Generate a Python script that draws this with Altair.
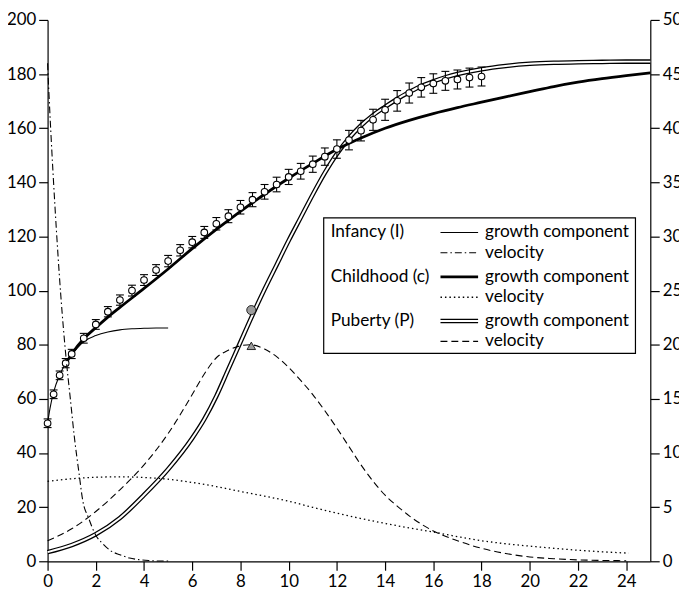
import altair as alt
import pandas as pd

# ---------------- data ----------------
obs_age = [0, 0.25, 0.5, 0.75, 1, 1.5, 2, 2.5, 3, 3.5, 4, 4.5, 5, 5.5, 6, 6.5, 7, 7.5, 8, 8.5,
           9, 9.5, 10, 10.5, 11, 11.5, 12, 12.5, 13, 13.5, 14, 14.5, 15, 15.5, 16, 16.5, 17, 17.5, 18]
obs_len = [51.0, 61.7, 68.7, 73.2, 76.6, 82.4, 87.5, 92.2, 96.5, 100.0, 103.9, 107.6, 110.9, 114.9,
           117.9, 121.5, 124.7, 127.5, 130.8, 133.6, 136.5, 139.2, 142.0, 144.1, 146.7, 149.5, 152.3,
           155.6, 159.1, 163.1, 166.8, 170.1, 173.0, 175.1, 176.5, 177.5, 178.0, 178.7, 179.1]
obs_sd = [1.6, 1.6, 1.6, 1.7, 1.7, 1.8, 1.8, 1.9, 1.9, 2.0, 2.0, 2.0, 2.1, 2.1, 2.1, 2.2, 2.3, 2.4,
          2.5, 2.6, 2.7, 2.7, 2.8, 2.9, 3.0, 3.2, 3.4, 3.6, 3.8, 3.9, 3.9, 3.8, 3.7, 3.6, 3.6, 3.5,
          3.5, 3.5, 3.5]

inf_age = [0, 0.1, 0.25, 0.5, 0.75, 1, 1.25, 1.5, 2, 2.5, 3, 3.5, 4, 4.5, 5]
inf_len = [51.0, 56.5, 62.5, 68.8, 73.2, 76.5, 79.0, 81.2, 83.4, 84.7, 85.5, 85.9, 86.1, 86.2, 86.2]

ch_age = [0.75, 1, 1.5, 2, 2.5, 3, 4, 5, 6, 7, 8, 9, 10, 11, 12, 13, 14, 15, 16, 17, 18, 19, 20,
          21, 22, 23, 24, 25]
ch_len = [73.0, 76.6, 82.2, 86.3, 90.2, 93.8, 100.8, 108.0, 115.5, 122.6, 129.3, 135.6, 141.5,
          147.0, 152.2, 156.4, 160.0, 162.9, 165.4, 167.6, 169.6, 171.6, 173.5, 175.4, 177.0,
          178.3, 179.4, 180.4]

pub_age = [0, 1, 2, 3, 4, 5, 6, 6.5, 7, 7.5, 8, 8.5, 9, 9.5, 10, 10.5, 11, 11.5, 12, 12.5, 13,
           13.5, 14, 14.5, 15, 15.5, 16, 16.5, 17, 18, 19, 20, 21, 22, 23, 24, 25]
pub_len = [3.4, 6.0, 10.0, 16.0, 24.5, 34.0, 45.5, 52.5, 61.0, 71.0, 81.0, 91.0, 100.5, 109.5,
           118.5, 127.0, 135.5, 143.5, 150.5, 156.3, 161.0, 164.8, 167.9, 170.8, 173.3, 175.6,
           177.3, 178.8, 180.0, 181.8, 183.0, 183.8, 184.2, 184.4, 184.5, 184.6, 184.6]

# velocities (cm/yr, right axis)
iv_age = [0, 0.05, 0.15, 0.3, 0.55, 0.77, 0.93, 1.12, 1.3, 1.46, 1.7, 2.0, 2.3, 2.6, 3.0, 3.4,
          3.8, 4.2, 4.6, 5.0]
iv_vel = [46.0, 43.5, 39.0, 33.0, 24.5, 18.7, 15.3, 11.3, 8.2, 5.6, 4.0, 2.4, 1.6, 1.0, 0.6, 0.3,
          0.15, 0.07, 0.03, 0.02]

cv_age = [0, 1, 2, 3, 4, 5, 6, 7, 8, 9, 10, 11, 12, 13, 14, 15, 16, 17, 18, 19, 20, 21, 22, 23, 24.1]
cv_vel = [7.38, 7.62, 7.76, 7.8, 7.74, 7.58, 7.28, 6.9, 6.45, 6.02, 5.55, 4.98, 4.45, 3.95, 3.5,
          3.08, 2.7, 2.28, 1.9, 1.62, 1.4, 1.2, 1.02, 0.88, 0.75]

pv_age = [0, 1, 2, 3, 4, 5, 6, 6.5, 7, 7.5, 8, 8.4, 9, 9.5, 10, 10.5, 11, 11.5, 12, 12.5, 13,
          13.5, 14, 14.5, 15, 16, 17, 18, 19, 20, 21, 22, 23, 24]
pv_vel = [1.9, 3.0, 4.6, 6.6, 8.9, 11.8, 15.4, 17.3, 18.8, 19.5, 19.9, 20.0, 19.6, 18.9, 17.9,
          16.7, 15.4, 13.9, 12.3, 10.6, 8.9, 7.4, 6.1, 5.1, 4.2, 2.8, 1.9, 1.2, 0.72, 0.4, 0.24,
          0.13, 0.08, 0.05]

mid_age = [8.45]
mid_len = [92.8]
peak_vel = [19.9]

legend_groups = ["Infancy (I)", "Childhood (c)", "Puberty (P)"]
legend_items = ["growth component", "velocity"]
x_ticks = list(range(0, 25, 2))
g_ticks = list(range(0, 201, 20))
v_ticks = list(range(0, 51, 5))

# ---------------- styling ----------------
FONT = "Lato"
FS = 17
LFS = 17.4
W, H = 609, 547

axis_common = dict(title=None, grid=False, labelFont=FONT, labelFontSize=FS, labelColor="black",
                   domainColor="black", tickColor="black", domainWidth=1.2, tickWidth=1.2,
                   tickSize=9, labelPadding=3, labelOverlap=False)

xscale = alt.Scale(domain=[0, 25], nice=False, zero=False)
x_axis = alt.Axis(values=x_ticks, labelFlush=False, **axis_common)
gscale = alt.Scale(domain=[0, 200], nice=False)
g_axis = alt.Axis(values=g_ticks, orient="left", **axis_common)
vscale = alt.Scale(domain=[0, 50], nice=False)
v_axis = alt.Axis(values=v_ticks, orient="right", **axis_common)


def X(f="age"):
    return alt.X(f"{f}:Q", scale=xscale, axis=x_axis)


def YG(f):
    return alt.Y(f"{f}:Q", scale=gscale, axis=g_axis)


def YV(f):
    return alt.Y(f"{f}:Q", scale=vscale, axis=v_axis)


obs = pd.DataFrame({"age": obs_age, "len": obs_len, "sd": obs_sd})
obs["lo"] = obs["len"] - obs["sd"]
obs["hi"] = obs["len"] + obs["sd"]
inf = pd.DataFrame({"age": inf_age, "len": inf_len})
ch = pd.DataFrame({"age": ch_age, "len": ch_len})
pub = pd.DataFrame({"age": pub_age, "len": pub_len})
ivd = pd.DataFrame({"age": iv_age, "vel": iv_vel})
cvd = pd.DataFrame({"age": cv_age, "vel": cv_vel})
pvd = pd.DataFrame({"age": pv_age, "vel": pv_vel})
mid = pd.DataFrame({"age": mid_age, "len": mid_len})
peak = pd.DataFrame({"age": mid_age, "vel": peak_vel})

DASHDOT = [7, 3, 1.5, 3]
DOT = [1.5, 3]
DASH = [7, 4]

pub_black = alt.Chart(pub).mark_line(color="black", strokeWidth=4.6, interpolate="monotone").encode(
    x=X(), y=YG("len"))
pub_white = alt.Chart(pub).mark_line(color="white", strokeWidth=2.0, interpolate="monotone").encode(
    x=X(), y=YG("len"))
thin = alt.Chart(inf).mark_line(color="black", strokeWidth=1.1, interpolate="monotone").encode(
    x=X(), y=YG("len"))
thick = alt.Chart(ch).mark_line(color="black", strokeWidth=2.8, interpolate="monotone").encode(
    x=X(), y=YG("len"))
err = alt.Chart(obs).mark_rule(color="black", strokeWidth=1.1).encode(
    x=X(), y=YG("lo"), y2="hi:Q")
cap_hi = alt.Chart(obs).mark_rule(color="black", strokeWidth=1.1, xOffset=-4, x2Offset=4).encode(
    x=X(), x2="age:Q", y=YG("hi"))
cap_lo = alt.Chart(obs).mark_rule(color="black", strokeWidth=1.1, xOffset=-4, x2Offset=4).encode(
    x=X(), x2="age:Q", y=YG("lo"))
pts = alt.Chart(obs).mark_point(shape="circle", filled=True, fill="white", stroke="black",
                                strokeWidth=1.1, size=45, opacity=1).encode(x=X(), y=YG("len"))
circ = alt.Chart(mid).mark_point(shape="circle", filled=True, fill="#9c9c9c", stroke="black",
                                 strokeWidth=0.8, size=85, opacity=1).encode(x=X(), y=YG("len"))

growth = alt.layer(pub_black, pub_white, thin, thick, err, cap_hi, cap_lo, pts, circ)

iv_line = alt.Chart(ivd).mark_line(color="black", strokeWidth=1.1, strokeDash=DASHDOT,
                                   interpolate="monotone").encode(x=X(), y=YV("vel"))
cv_line = alt.Chart(cvd).mark_line(color="black", strokeWidth=1.3, strokeDash=DOT,
                                   interpolate="monotone").encode(x=X(), y=YV("vel"))
pv_line = alt.Chart(pvd).mark_line(color="black", strokeWidth=1.1, strokeDash=DASH,
                                   interpolate="monotone").encode(x=X(), y=YV("vel"))
tri = alt.Chart(peak).mark_point(shape="triangle-up", filled=True, fill="#9c9c9c", stroke="black",
                                 strokeWidth=0.8, size=75, opacity=1).encode(x=X(), y=YV("vel"))

velocity = alt.layer(iv_line, cv_line, pv_line, tri)

# ---------------- legend box ----------------
one = pd.DataFrame({"k": [0]})
box = alt.Chart(one).mark_rect(fill="white", stroke="black", strokeWidth=1.2).encode(
    x=alt.value(279), x2=alt.value(594), y=alt.value(200), y2=alt.value(337))

legend_layers = [box]
group_y = [214.7, 259.7, 304.3]
row_gap = 20.5
styles = [
    (dict(strokeWidth=1.1), dict(strokeWidth=1.1, strokeDash=DASHDOT)),
    (dict(strokeWidth=2.8), dict(strokeWidth=1.3, strokeDash=DOT)),
    (None, dict(strokeWidth=1.1, strokeDash=DASH)),
]
for gi, g in enumerate(legend_groups):
    gy = group_y[gi]
    legend_layers.append(
        alt.Chart(pd.DataFrame({"t": [g]})).mark_text(
            align="left", baseline="middle", font=FONT, fontSize=LFS, color="black").encode(
            text="t:N", x=alt.value(286), y=alt.value(gy)))
    for ri, item in enumerate(legend_items):
        ry = gy + ri * row_gap
        legend_layers.append(
            alt.Chart(pd.DataFrame({"t": [item]})).mark_text(
                align="left", baseline="middle", font=FONT, fontSize=LFS, color="black").encode(
                text="t:N", x=alt.value(442), y=alt.value(ry)))
        st = styles[gi][ri]
        if st is None:
            legend_layers.append(alt.Chart(one).mark_rule(color="black", strokeWidth=4.6).encode(
                x=alt.value(397), x2=alt.value(435), y=alt.value(ry)))
            legend_layers.append(alt.Chart(one).mark_rule(color="white", strokeWidth=2.0).encode(
                x=alt.value(396), x2=alt.value(436), y=alt.value(ry)))
        else:
            legend_layers.append(alt.Chart(one).mark_rule(color="black", **st).encode(
                x=alt.value(397), x2=alt.value(435), y=alt.value(ry)))

legend = alt.layer(*legend_layers)

chart = alt.layer(growth, velocity, legend).resolve_scale(y="independent").properties(
    width=W, height=H,
    autosize=alt.AutoSizeParams(type="none"),
    padding={"left": 40, "top": 9, "right": 29, "bottom": 31},
).configure_view(stroke=None)

chart.save("out.html", embed_options={"renderer": "svg", "actions": False})
